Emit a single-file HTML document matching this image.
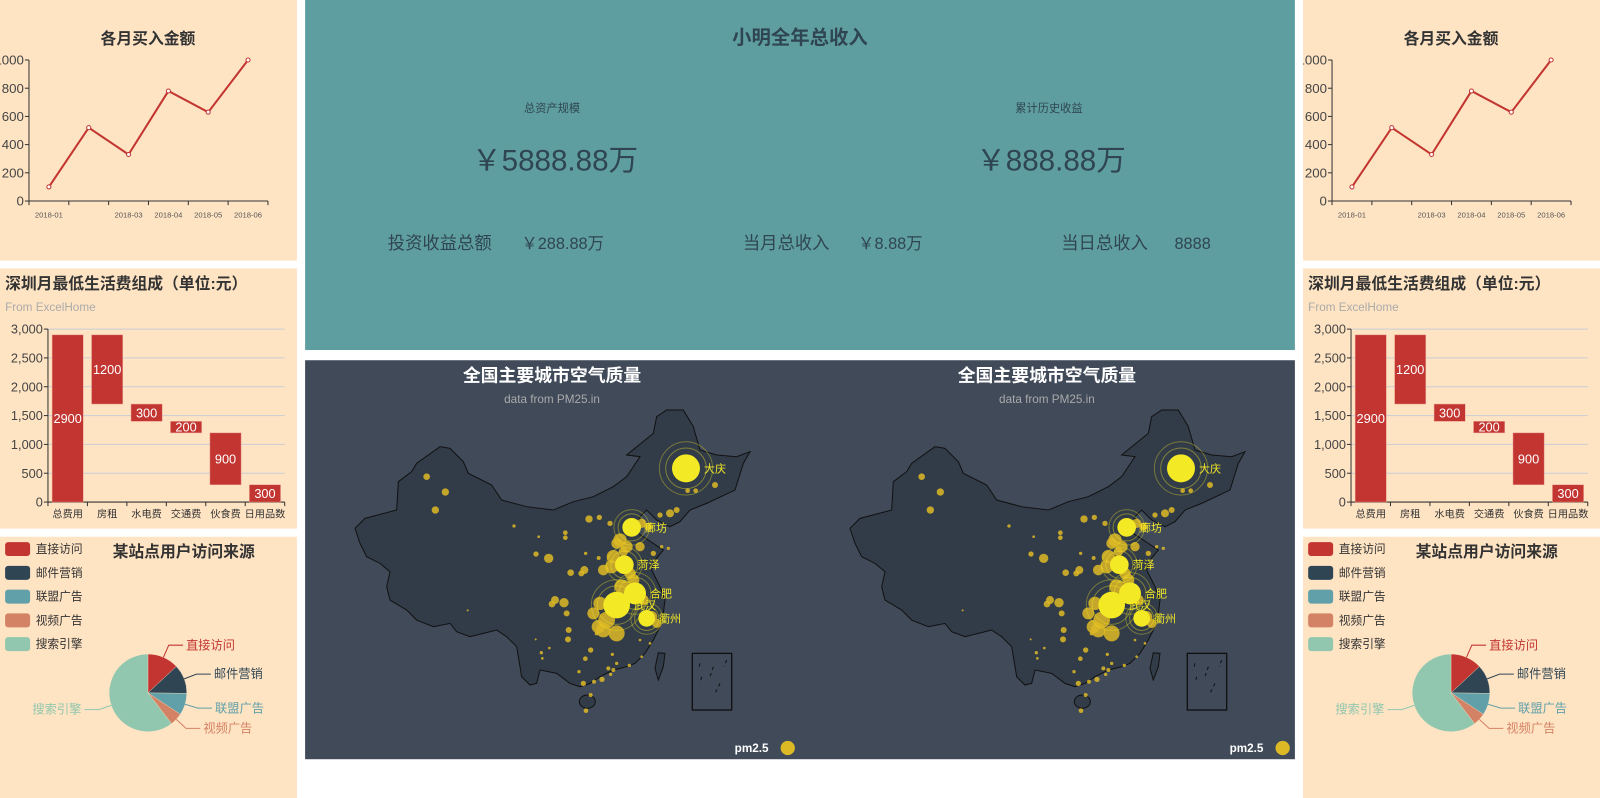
<!DOCTYPE html>
<html><head><meta charset="utf-8"><style>
html,body{margin:0;padding:0;background:#fff;overflow:hidden}
svg{display:block;font-family:"Liberation Sans","Noto Sans CJK SC",sans-serif}
</style></head><body>
<svg id="root" width="1600" height="798" viewBox="0 0 1568 782" preserveAspectRatio="none" xmlns="http://www.w3.org/2000/svg">
<rect x="0" y="0" width="1568" height="782" fill="#ffffff"/>
<g>
<rect x="299" y="0" width="970" height="343" fill="#5f9ea0"/>
<g fill="#2f4554">
<text x="784" y="43" font-size="19" font-weight="bold" text-anchor="middle">小明全年总收入</text>
<text x="541" y="110" font-size="11" text-anchor="middle">总资产规模</text>
<text x="544" y="167" font-size="29" text-anchor="middle">￥5888.88万</text>
<text x="1028" y="110" font-size="11" text-anchor="middle">累计历史收益</text>
<text x="1030" y="167" font-size="29" text-anchor="middle">￥888.88万</text>
<text x="380" y="244" font-size="17">投资收益总额</text>
<text x="511" y="244" font-size="16">￥288.88万</text>
<text x="728" y="244" font-size="17">当月总收入</text>
<text x="841" y="244" font-size="16">￥8.88万</text>
<text x="1040" y="244" font-size="17">当日总收入</text>
<text x="1151" y="244" font-size="16">8888</text>
</g></g>
<g>
<rect x="299" y="353" width="970" height="391" fill="#404a59"/>
<g id="maps"></g>
</g>
<g id="sidepanels"></g>
</svg>
<script>
const NS='http://www.w3.org/2000/svg';
const lineCategories=['2018-01','2018-02','2018-03','2018-04','2018-05','2018-06'];
const lineTickLabels=['2018-01','','2018-03','2018-04','2018-05','2018-06'];
const lineValues=[100,520,330,780,630,1000];
const lineYTicks=[0,200,400,600,800,1000];
const barCategories=['总费用','房租','水电费','交通费','伙食费','日用品数'];
const barValues=[2900,1200,300,200,900,300];
const barYTicks=[0,500,1000,1500,2000,2500,3000];
const barYTickLabels=['0','500','1,000','1,500','2,000','2,500','3,000'];
const pieNames=['直接访问','邮件营销','联盟广告','视频广告','搜索引擎'];
const pieValues=[335,310,234,135,1548];
const pieColors=['#c23531','#2f4554','#61a0a8','#d48265','#91c7ae'];

function el(tag,attrs,parent,text){const e=document.createElementNS(NS,tag);for(const k in attrs)e.setAttribute(k,attrs[k]);if(text!==undefined)e.textContent=text;parent.appendChild(e);return e;}

function drawPanels(ox){
  const root=document.getElementById('sidepanels');
  const sv=el('svg',{x:ox,y:0,width:291,height:782,overflow:'hidden'},root);
  
  
  const bg='#ffe4c4';
  el('rect',{x:0,y:0,width:291,height:255.5,fill:bg},sv);
  el('rect',{x:0,y:263,width:291,height:255,fill:bg},sv);
  el('rect',{x:0,y:526,width:291,height:256,fill:bg},sv);
  const lg=el('g',{},sv);
  
  
  const t1=el('text',{x:145,y:43,'font-size':15.5,'font-weight':'bold','text-anchor':'middle',fill:'#333'},lg,'各月买入金额');
  
  
  const lx0=28.4,lx1=262.6,ly0=197,ly1=58.8;
  const lband=(lx1-lx0)/lineCategories.length;
  const lxs=i=>lx0+lband*(i+0.5);
  const lys=v=>ly0-(v/1000)*(ly0-ly1);
  el('line',{x1:lx0,y1:ly0,x2:lx1,y2:ly0,stroke:'#333','stroke-width':1},lg);
  el('line',{x1:lx0,y1:ly0,x2:lx0,y2:ly1,stroke:'#333','stroke-width':1},lg);
  lineYTicks.forEach(v=>{
    el('line',{x1:lx0-4,y1:lys(v),x2:lx0,y2:lys(v),stroke:'#333'},lg);
    const tt=el('text',{x:lx0-5,y:lys(v)+4.5,'font-size':13,'text-anchor':'end',fill:'#444'},lg,String(v));
    
    
  });
  for(let i=0;i<=lineCategories.length;i++){el('line',{x1:lx0+lband*i,y1:ly0,x2:lx0+lband*i,y2:ly0+4,stroke:'#333'},lg);}
  lineTickLabels.forEach((c,i)=>{
    const tt=el('text',{x:lxs(i),y:213,'font-size':7.5,'text-anchor':'middle',fill:'#555'},lg,c);
    
    
  });
  const pts=lineValues.map((v,i)=>lxs(i)+','+lys(v)).join(' ');
  const pl=el('polyline',{points:pts,fill:'none',stroke:'#c23531','stroke-width':2},lg);
  
  
  lineValues.forEach((v,i)=>{
    const c=el('circle',{cx:lxs(i),cy:lys(v),r:2,fill:'#fff',stroke:'#c23531','stroke-width':1},lg);
    
    
  });
  const bg2=el('g',{},sv);
  
  
  const t2=el('text',{x:5,y:283,'font-size':15.5,'font-weight':'bold',fill:'#333'},bg2,'深圳月最低生活费组成（单位:元）');
  
  
  const t2s=el('text',{x:5,y:305,'font-size':11.5,fill:'#aaa'},bg2,'From ExcelHome');
  
  
  const bx0=47,bx1=279,by0=492,by1=322.5;
  const bband=(bx1-bx0)/barCategories.length;
  const bys=v=>by0-(v/3000)*(by0-by1);
  barYTicks.forEach((v,i)=>{
    if(v>0)el('line',{x1:bx0,y1:bys(v),x2:bx1,y2:bys(v),stroke:'#c8ccd4','stroke-width':1},bg2);
    el('line',{x1:bx0-4,y1:bys(v),x2:bx0,y2:bys(v),stroke:'#333'},bg2);
    const tt=el('text',{x:bx0-5,y:bys(v)+4.5,'font-size':12.5,'text-anchor':'end',fill:'#444'},bg2,barYTickLabels[i]);
    
    
  });
  el('line',{x1:bx0,y1:by0,x2:bx1,y2:by0,stroke:'#333'},bg2);
  el('line',{x1:bx0,y1:by0,x2:bx0,y2:by1,stroke:'#333'},bg2);
  for(let i=0;i<=barCategories.length;i++){el('line',{x1:bx0+bband*i,y1:by0,x2:bx0+bband*i,y2:by0+4,stroke:'#333'},bg2);}
  let remain=barValues[0];
  barValues.forEach((v,i)=>{
    let base;
    if(i===0)base=0;else{remain-=v;base=Math.max(remain,0);}
    const bw=bband*0.79;const x=bx0+bband*i+(bband-bw)/2;
    const r=el('rect',{x:x,y:bys(base+v),width:bw,height:bys(base)-bys(base+v),fill:'#c23531',stroke:'#e8a090','stroke-width':0.5},bg2);
    
    
    const lt=el('text',{x:x+bw/2,y:(bys(base)+bys(base+v))/2+4.5,'font-size':12.5,'text-anchor':'middle',fill:'#fff'},bg2,String(v));
    
    
    const ct=el('text',{x:bx0+bband*(i+0.5),y:507,'font-size':10,'text-anchor':'middle',fill:'#333'},bg2,barCategories[i]);
    
    
  });
  const pg=el('g',{},sv);
  
  
  const t3=el('text',{x:180,y:546,'font-size':15.5,'font-weight':'bold','text-anchor':'middle',fill:'#333'},pg,'某站点用户访问来源');
  
  
  pieNames.forEach((n,i)=>{
    const y=538+i*23.3;
    const lr=el('rect',{x:5,y:y-6.8,width:24.5,height:13.7,rx:3,fill:pieColors[i]},pg);
    
    
    const ltx=el('text',{x:35,y:y+4,'font-size':11.5,fill:'#333'},pg,n);
    
    
  });
  const cx=145,cy=679,R=38;
  const total=pieValues.reduce((a,b)=>a+b,0);
  let a0=0;
  pieValues.forEach((v,i)=>{
    const a1=a0+v/total*Math.PI*2;
    const p=(a,r)=>[cx+r*Math.sin(a),cy-r*Math.cos(a)];
    const [x0,y0]=p(a0,R),[x1,y1]=p(a1,R);
    const large=(a1-a0)>Math.PI?1:0;
    const s=el('path',{d:`M${cx},${cy} L${x0},${y0} A${R},${R} 0 ${large} 1 ${x1},${y1} Z`,fill:pieColors[i],stroke:'#ffe4c4','stroke-width':0.3},pg);
    
    
    const am=(a0+a1)/2;
    const [sx,sy]=p(am,R),[mx,my]=p(am,R+13);
    const right=Math.sin(am)>=0;
    const ex=mx+(right?14:-14);
    el('polyline',{points:`${sx},${sy} ${mx},${my} ${ex},${my}`,fill:'none',stroke:pieColors[i],'stroke-width':1},pg);
    const pt=el('text',{x:ex+(right?3:-3),y:my+4,'font-size':12,'text-anchor':right?'start':'end',fill:pieColors[i]},pg,pieNames[i]);
    
    
    a0=a1;
  });
}
drawPanels(0);
drawPanels(1277);

const chinaOutline='45,385 75,355 170,330 175,245 215,215 230,190 300,140 330,145 370,185 385,220 455,255 485,300 560,320 640,330 700,305 760,290 820,260 860,230 900,170 860,165 940,100 950,50 980,30 1030,30 1060,80 1080,150 1130,165 1190,170 1230,155 1210,190 1185,270 1100,310 1050,330 1020,365 990,380 950,360 920,330 900,350 895,400 940,430 970,450 945,480 935,510 960,560 975,600 970,640 960,680 940,720 915,760 885,790 860,800 820,810 780,830 750,850 720,860 690,850 650,820 600,810 590,850 570,855 545,830 540,800 530,740 500,710 470,690 390,710 350,695 330,670 280,680 230,660 200,630 150,600 140,560 150,515 120,490 80,470 60,430';
const bubbleX=[260,316,286,626,588,747,778,672,645,636,680,686,684,692,733,724,1125,1043,1067,990,1010,960,810,676,676,522,383,596,840,860,900,815,790,870,780,800,790,935,950,940,965,985,776,737,752,736,786,762,730,717,805,820,812,830,868,905,752,738,604,607,628,587,817,770,900,930,820,845,880,910,830,760,775,905,925,830,850];
const bubbleY=[230,276,330,475,462,357,352,608,600,612,640,690,718,518,510,520,255,272,272,340,330,345,370,398,413,378,631,410,420,440,440,500,510,520,610,660,690,650,670,460,440,445,474,460,750,776,838,845,850,815,805,810,823,790,796,770,885,932,758,775,744,718,763,700,720,730,470,560,540,600,700,640,680,370,380,430,455];
const bubbleR=[10,11,11,14,8,11,8,14,12,10,9,9,9,10,12,9,9,7,7,12,9,8,8,7,7,5,3,4,20,18,14,20,16,17,20,25,22,17,14,8,5,5,6,5,8,7,8,6,8,5,6,6,5,5,5,4,6,7,5,4,4,3,5,6,4,4,20,22,18,16,24,18,20,14,12,16,14];
const topCities=['大庆','廊坊','菏泽','合肥','武汉','衢州'];
const topX=[1038,875,853,885,830,920];
const topY=[205,382,494,580,615,655];
const topR=[42,28,28,33,40,25];
function drawMap(ox,cxTitle){
  const maps=document.getElementById('maps');
  const t=el('text',{x:cxTitle,y:374,'font-size':17.5,'font-weight':'bold','text-anchor':'middle',fill:'#fff'},maps,'全国主要城市空气质量');
  
  
  const st=el('text',{x:cxTitle,y:395,'font-size':11.5,'text-anchor':'middle',fill:'#aaa'},maps,'data from PM25.in');
  
  
  const g=el('g',{transform:`scale(0.98) translate(${ox},400) scale(0.33333)`},maps);
  
  
  el('polygon',{points:chinaOutline,fill:'#323c48',stroke:'#111','stroke-width':3},g);
  el('ellipse',{cx:742,cy:905,rx:24,ry:20,fill:'#323c48',stroke:'#111','stroke-width':3},g);
  el('polygon',{points:'955,758 975,760 970,800 955,840 945,805',fill:'#323c48',stroke:'#111','stroke-width':3},g);
  el('rect',{x:1057,y:760,width:118,height:170,fill:'none',stroke:'#111','stroke-width':4},g);
  el('path',{d:'M1080,790 l-5,20 M1085,830 l-5,20 M1120,800 l-10,30 M1140,850 l-15,30 M1160,780 l-8,20',stroke:'#111','stroke-width':3,'stroke-dasharray':'10 10'},g);
  bubbleX.forEach((x,i)=>{
    const c=el('circle',{cx:x,cy:bubbleY[i],r:bubbleR[i],fill:'#ddb926','fill-opacity':0.85},g);
    
    
  });
  topCities.forEach((n,i)=>{
    el('circle',{cx:topX[i],cy:topY[i],r:topR[i]*1.9,fill:'none',stroke:'#f4e925','stroke-opacity':0.35,'stroke-width':3},g);
    el('circle',{cx:topX[i],cy:topY[i],r:topR[i]*1.45,fill:'none',stroke:'#f4e925','stroke-opacity':0.4,'stroke-width':3},g);
    const c=el('circle',{cx:topX[i],cy:topY[i],r:topR[i],fill:'#f4e925'},g);
    
    
    const lt=el('text',{x:topX[i]+topR[i]+12,y:topY[i]+12,'font-size':33,fill:'#f4e925'},g,n);
    
    
  });
  const lx=cxTitle+179;
  const lt=el('text',{x:lx,y:737,'font-size':11.5,'font-weight':'bold',fill:'#fff'},maps,'pm2.5');
  
  
  const lc=el('circle',{cx:lx+52,cy:733,r:7,fill:'#ddb926'},maps);
  
  
}
drawMap(340,541);
drawMap(835,1026);
</script>
</body></html>
